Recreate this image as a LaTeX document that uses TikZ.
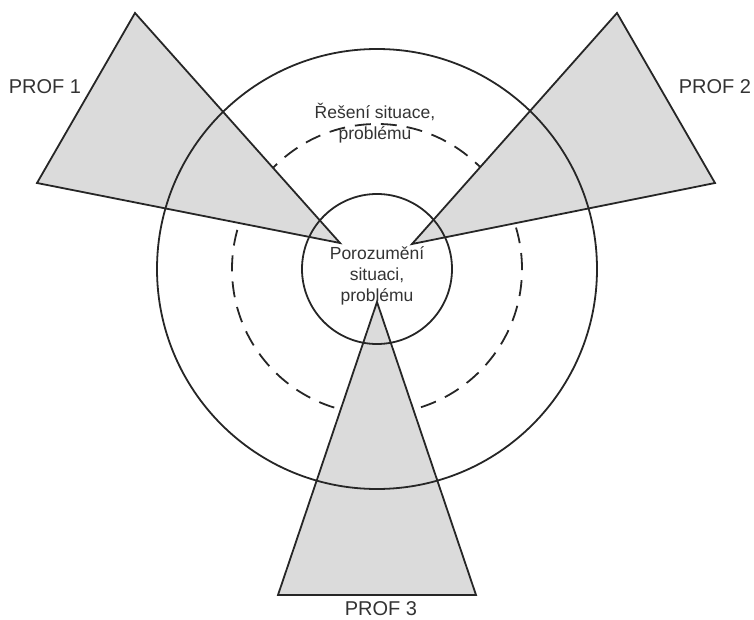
\documentclass[tikz,border=0pt]{standalone}
\usepackage{fontspec}
\setmainfont{Liberation Sans}
\begin{document}
\begin{tikzpicture}[x=1pt,y=-1pt,
  edge/.style={draw=black!85,line width=1.8pt,line join=miter},
  wedge/.style={edge,fill=gray!28},
  ring/.style={circle,draw=black!85,line width=1.8pt,inner sep=0pt},
  dashring/.style={ring,dash pattern=on 16pt off 10pt},
  txt/.style={text=black!80,font=\fontsize{17.5}{21}\selectfont,align=center,inner sep=0pt},
  proflbl/.style={text=black!80,font=\fontsize{20}{23}\selectfont,inner sep=0pt}]
\useasboundingbox (0,0) rectangle (754,620);
% centre
\coordinate (c) at (377,269);
% dashed middle circle (behind the wedges)
\node[dashring,minimum size=290pt] (mid) at (c) {};
% wedges
\coordinate (a1) at (135,13);
\coordinate (b1) at (37,183);
\coordinate (t1) at (340,243);
\coordinate (a2) at (617,13);
\coordinate (b2) at (715,183);
\coordinate (t2) at (412,244);
\coordinate (a3) at (278,595);
\coordinate (b3) at (476,595);
\coordinate (t3) at (377,302);
\path[wedge] (a1) -- (b1) -- (t1) -- cycle;
\path[wedge] (a2) -- (b2) -- (t2) -- cycle;
\path[wedge] (a3) -- (b3) -- (t3) -- cycle;
% outer and inner circles
\node[ring,minimum size=440pt] (outer) at (c) {};
\node[ring,minimum size=150pt] (inner) at (c) {};
% texts
\node[txt] (core) at (377,276) {Porozumění\\situaci,\\problému};
\node[txt] (sol) at (375,123) {Řešení situace,\\problému};
\node[proflbl] (p1) at (45,87) {PROF 1};
\node[proflbl] (p2) at (715,87) {PROF 2};
\node[proflbl] (p3) at (381,609) {PROF 3};
\end{tikzpicture}
\end{document}
